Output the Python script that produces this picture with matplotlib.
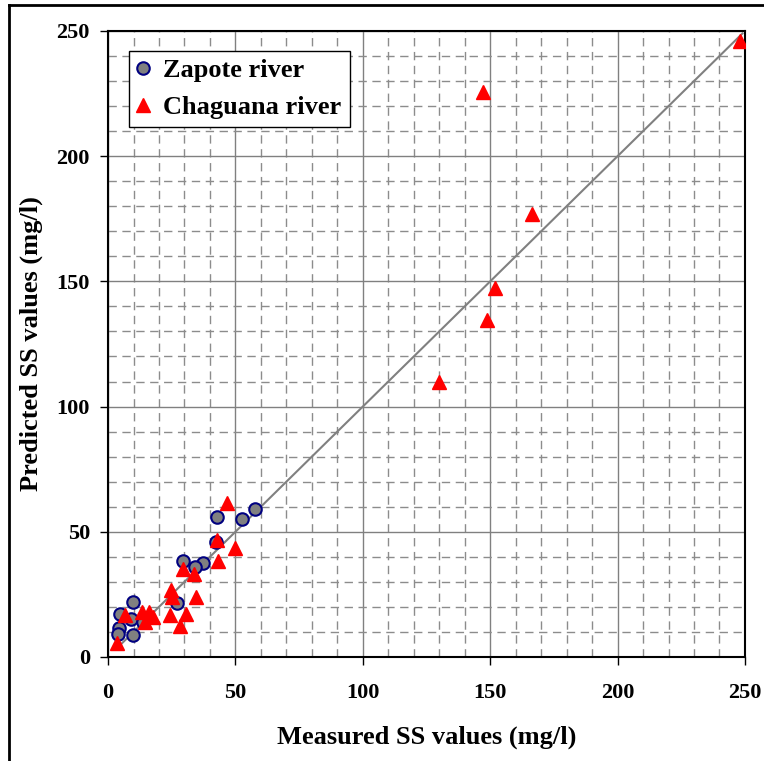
import matplotlib.pyplot as plt
from matplotlib.lines import Line2D
from matplotlib.ticker import MultipleLocator

# Zapote river (measured, predicted)
zapote_med = [57.7, 52.7, 42.6, 42.3, 29.6, 37.4, 34.1, 26.9, 9.9, 4.7, 8.9, 13.9, 4.4, 4.1, 9.9]
zapote_pred = [59.0, 55.0, 55.8, 46.0, 38.2, 37.4, 35.8, 21.4, 22.0, 17.0, 15.0, 14.1, 11.6, 9.0, 8.8]

# Chaguana river (measured, predicted)
chag_med = [248, 147.0, 166.5, 151.9, 148.6, 130.0,
            46.8, 42.6, 49.8, 43.3, 29.3, 33.8, 24.6, 25.3, 34.5, 24.3, 30.6, 28.3,
            13.2, 16.2, 17.8, 14.4, 6.7, 3.4]
chag_pred = [246, 225.8, 176.8, 147.2, 134.6, 110.0,
             61.6, 46.7, 43.4, 38.5, 35.0, 33.1, 26.8, 23.8, 24.1, 16.8, 17.1, 12.5,
             17.9, 17.9, 16.1, 14.1, 16.8, 5.7]

linea_1a1 = [3, 249]

plt.rcParams['font.family'] = ['Liberation Serif', 'DejaVu Serif']
plt.rcParams['font.weight'] = 'bold'

fig = plt.figure(figsize=(7.64, 7.61), dpi=100)
ax = fig.add_axes([0.1414, 0.1367, 0.8337, 0.8226])

# marco de la figura (recorte)
fig.add_artist(Line2D([9 / 764, 9 / 764], [0, 1 - 5 / 761], color='black', lw=2, transform=fig.transFigure))
fig.add_artist(Line2D([9 / 764, 1], [1 - 5 / 761, 1 - 5 / 761], color='black', lw=2, transform=fig.transFigure))

ax.set_xlim(0, 250)
ax.set_ylim(0, 250)
ax.xaxis.set_major_locator(MultipleLocator(50))
ax.yaxis.set_major_locator(MultipleLocator(50))
ax.xaxis.set_minor_locator(MultipleLocator(10))
ax.yaxis.set_minor_locator(MultipleLocator(10))
ax.grid(which='major', color='#808080', lw=1, ls='-')
ax.grid(which='minor', color='#8c8c8c', lw=1, ls=(0, (6, 4)))
ax.set_axisbelow(True)
ax.tick_params(which='major', direction='out', length=6, width=1, labelsize=16)
ax.tick_params(axis='x', pad=13)
ax.tick_params(axis='y', pad=7)
ax.tick_params(which='minor', length=0)
for s in ax.spines.values():
    s.set_color('black')
    s.set_linewidth(1.5)

ax.plot(linea_1a1, linea_1a1, color='#808080', lw=1.5, zorder=2)
ax.plot(zapote_med, zapote_pred, 'o', ms=9, mfc='#808080', mec='#000080', mew=1.5,
        label='Zapote river', zorder=3)
ax.plot(chag_med, chag_pred, '^', ms=10, color='#ff0000', mec='#ff0000',
        label='Chaguana river', zorder=4)

ax.set_xlabel('Measured SS values (mg/l)', fontsize=19, fontweight='bold', labelpad=16)
ax.set_ylabel('Predicted SS values (mg/l)', fontsize=19, fontweight='bold')
ax.yaxis.set_label_coords(-0.102, 0.5)

leg = ax.legend(loc='upper left', bbox_to_anchor=(0.033, 0.968), borderaxespad=0,
                fontsize=19, frameon=True, fancybox=False, edgecolor='black',
                framealpha=1, handletextpad=0.55, borderpad=0.3, labelspacing=0.5,
                handlelength=0.45)
leg.get_frame().set_linewidth(1)

fig.savefig('out.png', dpi=100)
